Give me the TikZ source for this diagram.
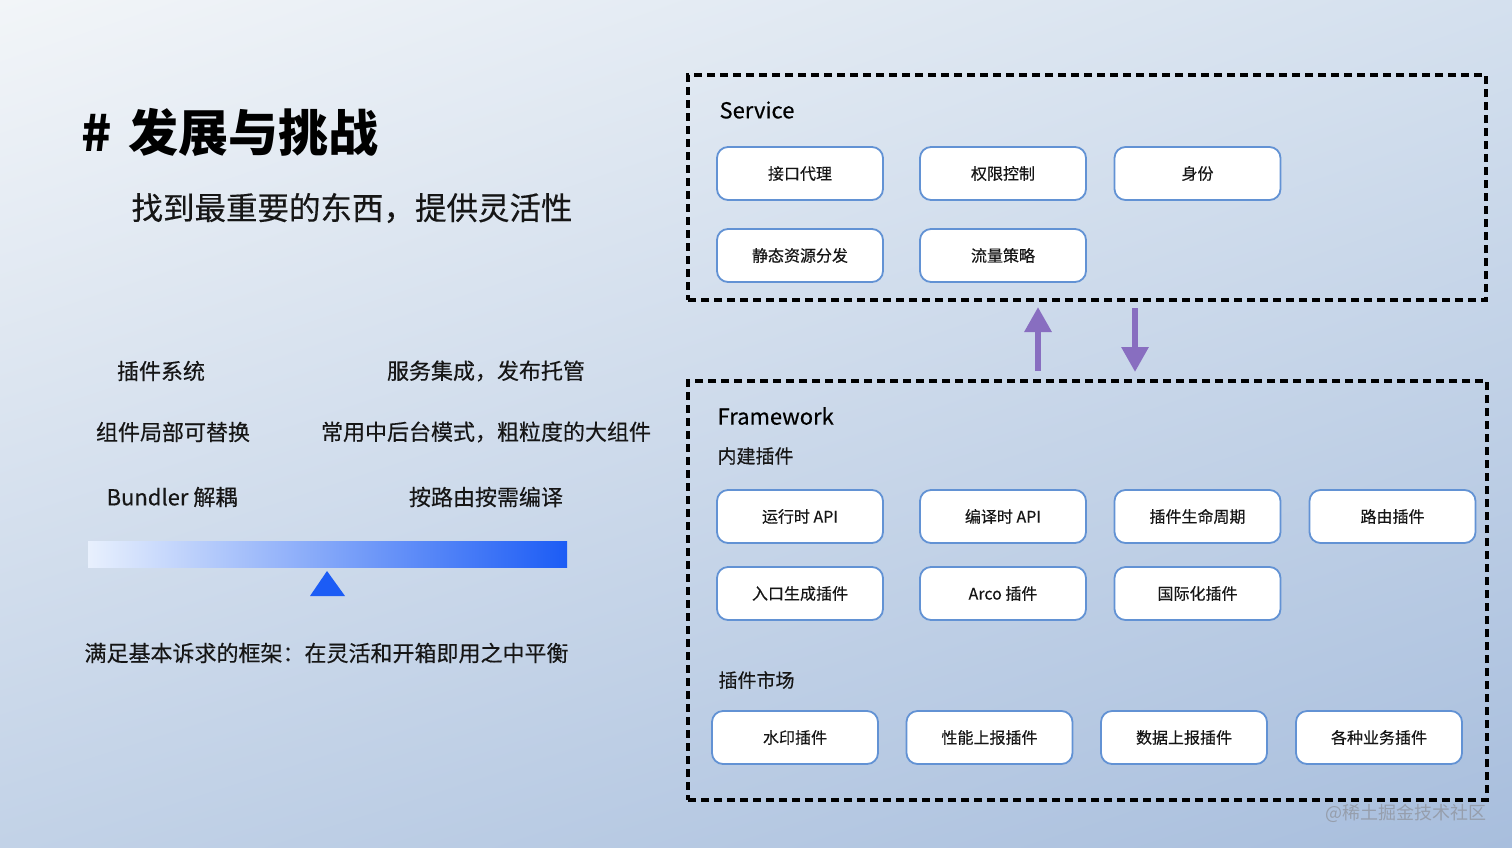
\documentclass[tikz,border=0pt]{standalone}
\usepackage{fontspec}
\setmainfont{Noto Sans CJK SC}
\newfontfamily\medfont{Noto Sans CJK SC}[FakeBold=0.35]
\usetikzlibrary{arrows.meta,shadings}

\definecolor{boxline}{RGB}{98,146,212}
\definecolor{arrowpurple}{RGB}{136,110,192}
\definecolor{barblue}{RGB}{28,92,245}
\definecolor{barlight}{RGB}{232,240,253}
\definecolor{bgtl}{RGB}{242,245,248}
\definecolor{bgtr}{RGB}{212,224,238}
\definecolor{bgbl}{RGB}{194,210,231}
\definecolor{bgbr}{RGB}{168,190,221}
\definecolor{inktext}{RGB}{22,22,22}
\definecolor{marktext}{RGB}{150,158,172}

\tikzset{
	plugin/.style={draw=boxline, line width=1.8pt, fill=white, rounded corners=11pt,
		minimum width=166pt, minimum height=53pt, inner sep=0pt,
		font=\medfont\fontsize{16}{16}\selectfont, text=inktext},
	layer/.style={draw=black, line width=3.2pt, dash pattern=on 8pt off 5pt,
		inner sep=0pt},
	leftlabel/.style={font=\medfont\fontsize{22}{22}\selectfont, text=inktext},
	heading/.style={anchor=west, font=\medfont\fontsize{22}{22}\selectfont, text=black},
	subheading/.style={anchor=west, font=\medfont\fontsize{19}{19}\selectfont, text=inktext},
	bigarrow/.style={arrowpurple, line width=6pt, -{Triangle[width=26pt,length=25pt]}}
}

\begin{document}
\begin{tikzpicture}[x=1pt, y=-1pt]
\useasboundingbox (0,0) rectangle (1512,847);
\shade[upper left=bgtl, upper right=bgtr, lower left=bgbl, lower right=bgbr]
	(0,0) rectangle (1512,847);

% left side
\node[anchor=west, font=\fontsize{50}{50}\selectfont\bfseries] (title) at (78,132) {\#\,\,发展与挑战};
\node[anchor=west, font=\medfont\fontsize{31.5}{31.5}\selectfont, text=inktext] (subtitle) at (128,208) {找到最重要的东西，提供灵活性};

\node[leftlabel] (l1) at (161,371) {插件系统};
\node[leftlabel] (r1) at (486,371) {服务集成，发布托管};
\node[leftlabel] (l2) at (173,432) {组件局部可替换};
\node[leftlabel] (r2) at (486,432) {常用中后台模式，粗粒度的大组件};
\node[leftlabel] (l3) at (172,497) {Bundler 解耦};
\node[leftlabel] (r3) at (486,497) {按路由按需编译};

\shade[left color=barlight, right color=barblue] (88,541) rectangle (567,567);
\fill[barblue] (327,571) -- (345,596) -- (310,596) -- cycle;

\node[leftlabel, anchor=west] (balance) at (81,653) {满足基本诉求的框架：在灵活和开箱即用之中平衡};

% right side
\node[layer, minimum width=798pt, minimum height=225pt] (service) at (1087,187.5) {};
\node[layer, minimum width=799pt, minimum height=419pt] (framework) at (1087.5,590.5) {};

\node[heading] (servicetitle) at (716,110) {Service};
\node[heading] (frameworktitle) at (714,416) {Framework};
\node[subheading] (builtin) at (714,456) {内建插件};
\node[subheading] (market) at (715,680) {插件市场};

\foreach \name/\x/\y/\txt in {
	proxy/800/173.5/接口代理, auth/1003/173.5/权限控制, ident/1197.5/173.5/身份,
	static/800/255.5/静态资源分发, traffic/1003/255.5/流量策略,
	runtime/800/516.5/运行时 API, compile/1003/516.5/编译时 API,
	lifecycle/1197.5/516.5/插件生命周期, route/1392.5/516.5/路由插件,
	entry/800/593.5/入口生成插件, arco/1003/593.5/Arco 插件, intl/1197.5/593.5/国际化插件,
	mark/795/737.5/水印插件, perf/989.5/737.5/性能上报插件,
	data/1184/737.5/数据上报插件, biz/1379/737.5/各种业务插件}
{
	\node[plugin] (\name) at (\x,\y) {\txt};
}

\coordinate (uptail) at (1038,371);
\coordinate (uphead) at (1038,307);
\coordinate (downtail) at (1135,308);
\coordinate (downhead) at (1135,372);
\draw[bigarrow] (uptail) -- (uphead);
\draw[bigarrow] (downtail) -- (downhead);

\node[anchor=east, font=\fontsize{18}{18}\selectfont, text=marktext] (watermark) at (1490,813) {@稀土掘金技术社区};
\end{tikzpicture}
\end{document}
